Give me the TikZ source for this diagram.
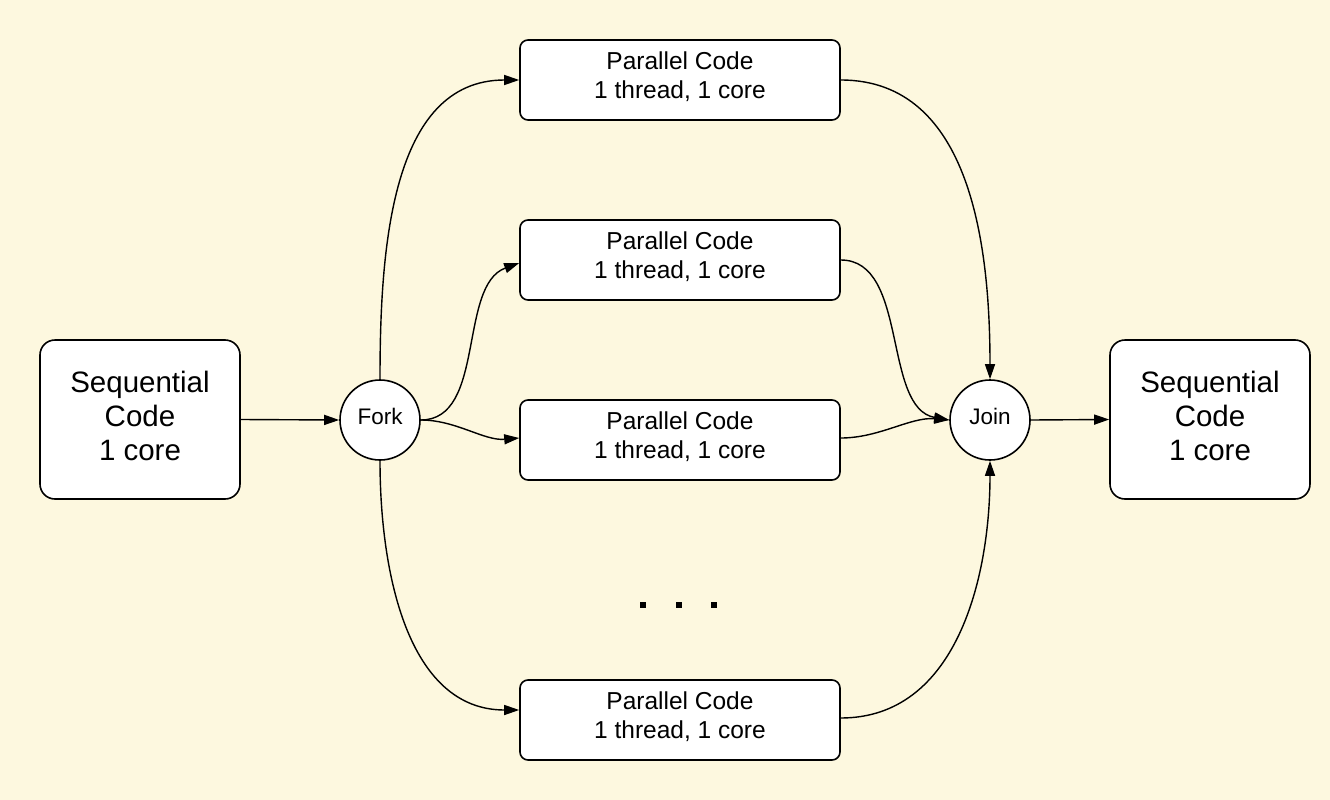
\documentclass[tikz,border=0pt]{standalone}
\usepackage{fontspec}
\setmainfont{Liberation Sans}
\usetikzlibrary{arrows.meta}
\definecolor{bgc}{RGB}{253,248,223}
\begin{document}
\begin{tikzpicture}[x=1pt,y=-1pt,
  seqbox/.style={draw=black,line width=1.6pt,fill=white,rounded corners=15pt,minimum width=200pt,minimum height=159pt,inner sep=0pt,align=center,text depth=8pt,font=\fontsize{29.5}{34}\selectfont},
  parbox/.style={draw=black,line width=1.6pt,fill=white,rounded corners=8pt,minimum width=320pt,minimum height=80pt,inner sep=0pt,align=center,text depth=9pt,font=\fontsize{24.5}{29}\selectfont},
  circ/.style={draw=black,line width=1.6pt,fill=white,circle,minimum size=80pt,inner sep=0pt,text depth=8pt,font=\fontsize{22.5}{26}\selectfont},
  conn/.style={line width=1.4pt,-{Triangle[length=15pt,width=10pt]}},
  dotmark/.style={fill=black,minimum size=6pt,inner sep=0pt}]
\fill[bgc] (0,0) rectangle (1330,800);
\useasboundingbox (0,0) rectangle (1330,800);
\node[seqbox] (s1) at (140,419.5) {Sequential\\Code\\1 core};
\node[seqbox] (s2) at (1210,419.5) {Sequential\\Code\\1 core};
\node[circ] (fork) at (380,420) {Fork};
\node[circ] (join) at (990,420) {Join};
\node[parbox] (p1) at (680,80) {Parallel Code\\1 thread, 1 core};
\node[parbox] (p2) at (680,260) {Parallel Code\\1 thread, 1 core};
\node[parbox] (p3) at (680,440) {Parallel Code\\1 thread, 1 core};
\node[parbox] (p4) at (680,720) {Parallel Code\\1 thread, 1 core};
\node[dotmark] (d1) at (643,605) {};
\node[dotmark] (d2) at (679,605) {};
\node[dotmark] (d3) at (714,605) {};
\draw[conn] (s1.east) -- (fork.west);
\draw[conn] (join.east) -- (s2.east -| s2.west);
\draw[conn] (fork.north) to[out=90,in=180] (p1.west);
\draw[conn] (fork.east) to[out=0,in=200,looseness=0.9] ([yshift=-3pt]p2.west);
\draw[conn] (fork.east) to[out=0,in=185,looseness=0.9] ([yshift=2pt]p3.west);
\draw[conn] (fork.south) to[out=-90,in=180] ([yshift=10pt]p4.west);
\draw[conn] (p1.east) to[out=0,in=90] (join.north);
\draw[conn] (p2.east) to[out=0,in=170,looseness=0.9] (join.west);
\draw[conn] ([yshift=2pt]p3.east) to[out=0,in=175,looseness=0.9] (join.west);
\draw[conn] ([yshift=2pt]p4.east) to[out=0,in=-90] (join.south);
\end{tikzpicture}
\end{document}
